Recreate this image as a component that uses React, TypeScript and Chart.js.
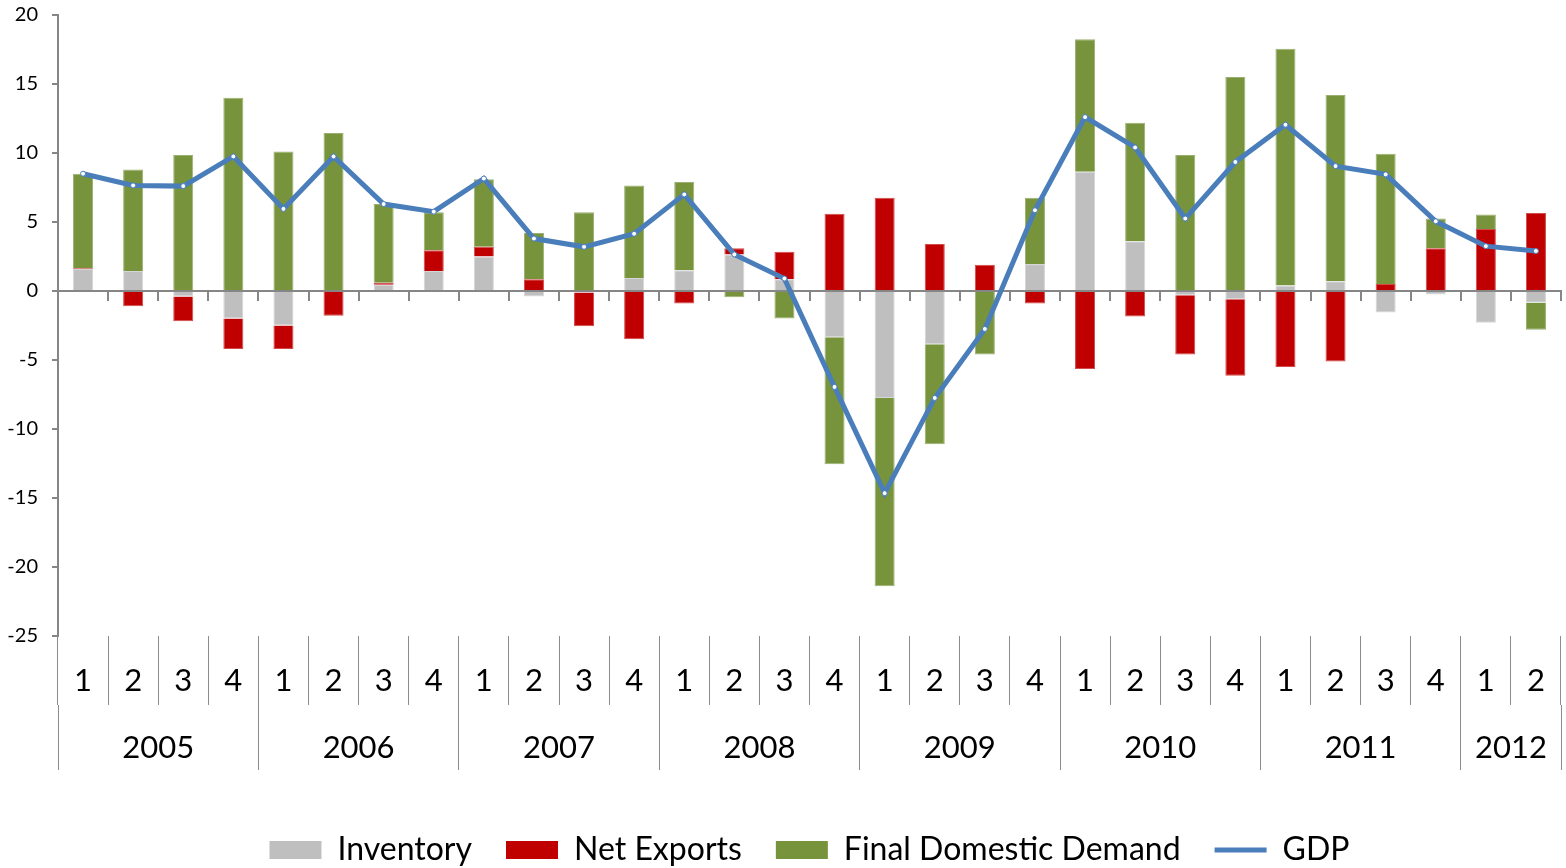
import React, { useEffect, useRef } from 'react';
import { Chart, registerables } from 'chart.js';

Chart.register(...registerables);

// ---------- data ----------
const years = ['2005', '2006', '2007', '2008', '2009', '2010', '2011', '2012'];
const quartersPerYear = [4, 4, 4, 4, 4, 4, 4, 2];

const inventory = [
  1.6, 1.45, -0.4, -2.0, -2.5, -0.05, 0.45, 1.45,
  2.5, -0.4, -0.1, 0.95, 1.5, 2.65, 0.85, -3.35,
  -7.75, -3.85, 0.0, 1.95, 8.65, 3.6, -0.3, -0.6,
  0.4, 0.7, -1.55, -0.25, -2.3, -0.85,
];
const netExports = [
  0.05, -1.1, -1.8, -2.2, -1.7, -1.75, 0.15, 1.5,
  0.7, 0.85, -2.45, -3.5, -0.9, 0.45, 2.0, 5.6,
  6.75, 3.4, 1.9, -0.9, -5.65, -1.85, -4.3, -5.55,
  -5.5, -5.1, 0.5, 3.1, 4.5, 5.65,
];
const finalDomesticDemand = [
  6.85, 7.35, 9.85, 14.0, 10.1, 11.45, 5.7, 2.75,
  4.9, 3.35, 5.7, 6.7, 6.4, -0.45, -2.0, -9.2,
  -13.65, -7.25, -4.6, 4.8, 9.6, 8.6, 9.85, 15.5,
  17.15, 13.5, 9.45, 2.15, 1.05, -1.95,
];
const gdp = [
  8.5, 7.65, 7.6, 9.75, 5.95, 9.75, 6.3, 5.75,
  8.15, 3.8, 3.2, 4.15, 7.0, 2.65, 0.9, -6.95,
  -14.65, -7.75, -2.75, 5.85, 12.6, 10.4, 5.25, 9.35,
  12.05, 9.05, 8.45, 5.05, 3.25, 2.9,
];

const yMin = -25;
const yMax = 20;
const yStep = 5;

// ---------- derived axis helpers ----------
const quarterLabels: string[] = quartersPerYear.flatMap((n) =>
  Array.from({ length: n }, (_, i) => String(i + 1))
);
const yearBoundaries: number[] = [0];
const yearCenters = new Map<number, string>();
{
  let acc = 0;
  years.forEach((y, i) => {
    yearCenters.set(acc + quartersPerYear[i] / 2, y);
    acc += quartersPerYear[i];
    yearBoundaries.push(acc);
  });
}
const boundarySet = new Set(yearBoundaries);
const yearTickValues = [...yearBoundaries, ...Array.from(yearCenters.keys())].sort((a, b) => a - b);
const totalQuarters = quarterLabels.length;

const FONT = 'Lato, "Open Sans", sans-serif';
const AXIS_COLOR = '#868686';
const SEP_COLOR = '#8c8c8c';
const GDP_COLOR = '#4A7EBB';

export default function App() {
  const canvasRef = useRef<HTMLCanvasElement | null>(null);

  useEffect(() => {
    document.body.style.margin = '0';
    document.body.style.overflow = 'hidden';
    const canvas = canvasRef.current;
    if (!canvas) return;
    Chart.defaults.font.family = FONT;

    const chart = new Chart(canvas, {
      type: 'bar',
      data: {
        labels: quarterLabels,
        datasets: [
          {
            label: 'Inventory',
            data: inventory,
            backgroundColor: '#BFBFBF',
            borderColor: '#d6d6d6',
            borderWidth: 1,
            stack: 'c',
            order: 1,
            xAxisID: 'x',
            yAxisID: 'y',
            barPercentage: 0.4,
            categoryPercentage: 1,
          },
          {
            label: 'Net Exports',
            data: netExports,
            backgroundColor: '#C00000',
            borderColor: '#d24a4a',
            borderWidth: 1,
            stack: 'c',
            order: 1,
            xAxisID: 'x',
            yAxisID: 'y',
            barPercentage: 0.4,
            categoryPercentage: 1,
          },
          {
            label: 'Final Domestic Demand',
            data: finalDomesticDemand,
            backgroundColor: '#77933C',
            borderColor: '#9bb070',
            borderWidth: 1,
            stack: 'c',
            order: 1,
            xAxisID: 'x',
            yAxisID: 'y',
            barPercentage: 0.4,
            categoryPercentage: 1,
          },
          {
            type: 'line',
            label: 'GDP',
            data: gdp,
            borderColor: GDP_COLOR,
            backgroundColor: GDP_COLOR,
            borderWidth: 5,
            pointRadius: 2.5,
            pointBackgroundColor: '#ffffff',
            pointBorderColor: GDP_COLOR,
            pointBorderWidth: 1,
            tension: 0,
            fill: false,
            stack: 'gdp',
            order: 0,
            xAxisID: 'x',
            yAxisID: 'y',
          } as any,
        ],
      },
      options: {
        responsive: false,
        animation: false,
        devicePixelRatio: 1,
        layout: { padding: { top: 15, right: -3, left: 0, bottom: -8 } },
        plugins: {
          tooltip: { enabled: false },
          title: { display: false },
          legend: {
            position: 'bottom',
            fullSize: false,
            labels: {
              usePointStyle: true,
              pointStyleWidth: 52,
              boxHeight: 18,
              padding: 34,
              color: '#000',
              font: { size: 32, family: FONT },
              generateLabels: (ch: any) => {
                const items = (Chart.defaults.plugins.legend.labels as any).generateLabels(ch);
                items.sort((a: any, b: any) => a.datasetIndex - b.datasetIndex);
                return items.map((it: any) => {
                  const ds: any = ch.data.datasets[it.datasetIndex];
                  if (ds.type === 'line') {
                    return { ...it, pointStyle: 'line', lineWidth: 5, strokeStyle: GDP_COLOR, fillStyle: GDP_COLOR };
                  }
                  return { ...it, pointStyle: 'rect', lineWidth: 0 };
                });
              },
            },
          },
        },
        scales: {
          x: {
            type: 'category',
            position: 'bottom',
            stacked: true,
            weight: 0,
            offset: true,
            grid: {
              offset: true,
              drawOnChartArea: false,
              drawTicks: true,
              tickLength: 69,
              color: SEP_COLOR,
              lineWidth: 1,
            },
            border: { display: false },
            ticks: {
              autoSkip: false,
              maxRotation: 0,
              minRotation: 0,
              padding: -43,
              color: '#000',
              font: { size: 31, family: FONT },
            },
            afterFit: (s: any) => {
              s.height = 69;
              s.paddingLeft = 0;
              s.paddingRight = 0;
            },
          },
          xYear: {
            type: 'linear',
            axis: 'x',
            position: 'bottom',
            weight: 1,
            min: 0,
            max: totalQuarters,
            offset: false,
            afterBuildTicks: (a: any) => {
              a.ticks = yearTickValues.map((v) => ({ value: v }));
            },
            grid: {
              offset: false,
              drawOnChartArea: false,
              drawTicks: true,
              tickLength: 65,
              lineWidth: 1,
              color: (ctx: any) =>
                ctx.tick && boundarySet.has(ctx.tick.value) ? SEP_COLOR : 'rgba(0,0,0,0)',
            },
            border: { display: false },
            ticks: {
              autoSkip: false,
              maxRotation: 0,
              minRotation: 0,
              padding: -41,
              color: '#000',
              font: { size: 31, family: FONT },
              callback: (v: any) => yearCenters.get(Number(v)) ?? '',
            },
            afterFit: (s: any) => {
              s.height = 95;
              s.paddingLeft = 0;
              s.paddingRight = 0;
            },
          },
          xZero: {
            type: 'category',
            axis: 'x',
            position: { y: 0 },
            offset: true,
            grid: {
              offset: true,
              drawOnChartArea: false,
              drawTicks: true,
              tickLength: 9,
              color: AXIS_COLOR,
              lineWidth: 2,
            },
            border: { display: true, color: AXIS_COLOR, width: 2 },
            ticks: { display: false },
            afterFit: (s: any) => {
              s.height = 0;
              s.paddingLeft = 0;
              s.paddingRight = 0;
            },
          },
          y: {
            type: 'linear',
            position: 'left',
            stacked: true,
            min: yMin,
            max: yMax,
            ticks: {
              stepSize: yStep,
              padding: 14,
              color: '#000',
              font: { size: 20, family: FONT },
            },
            grid: {
              drawOnChartArea: false,
              drawTicks: true,
              tickLength: 6,
              color: AXIS_COLOR,
              lineWidth: 2,
            },
            border: { display: true, color: AXIS_COLOR, width: 2 },
            afterFit: (s: any) => {
              s.width = 58;
              s.paddingTop = 0;
              s.paddingBottom = 0;
            },
          },
        } as any,
      },
    });

    return () => {
      chart.destroy();
    };
  }, []);

  return (
    <div style={{ width: 1566, height: 868 }}>
      <canvas ref={canvasRef} width={1566} height={868} style={{ display: 'block' }} />
    </div>
  );
}
